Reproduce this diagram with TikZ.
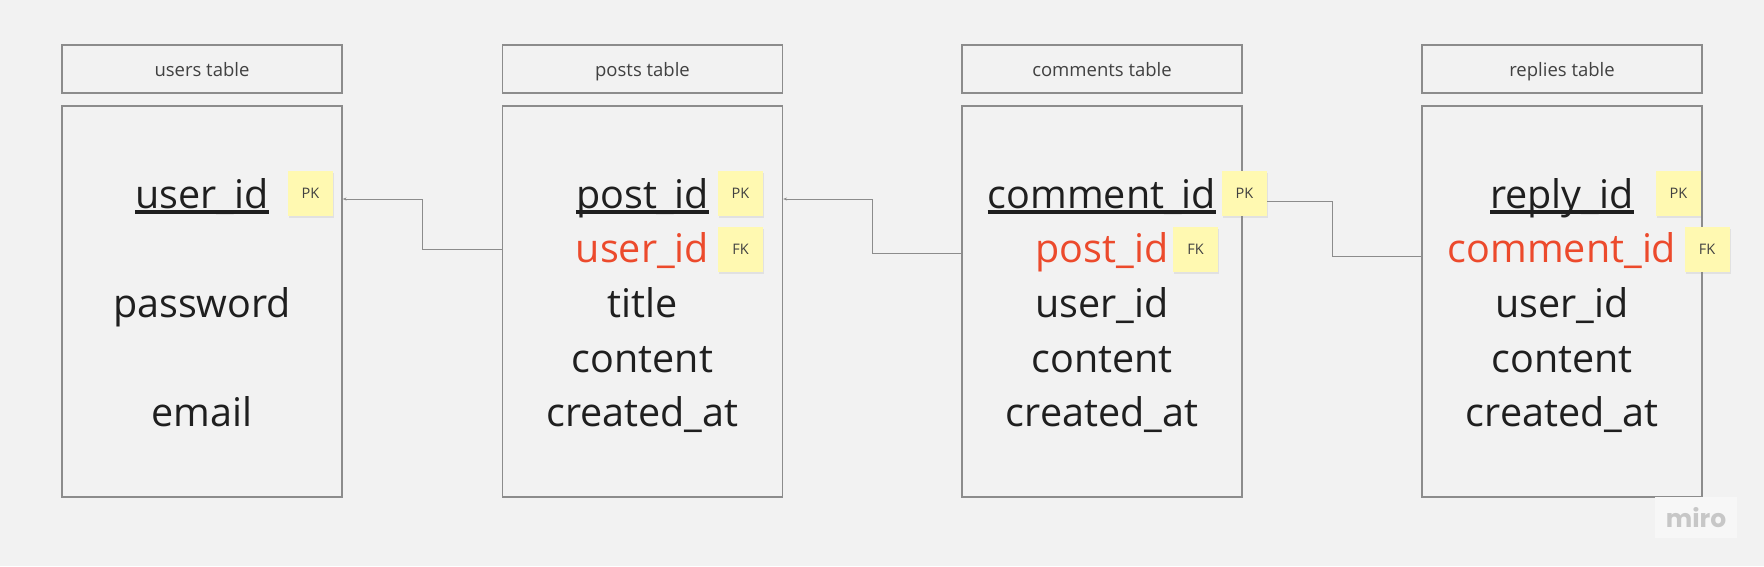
\documentclass[tikz,border=0pt]{standalone}
\usepackage{fontspec}
\setmainfont{Open Sans}
\newfontfamily\logofont{Poppins}
\usetikzlibrary{arrows.meta,shadows}
\definecolor{bg}{HTML}{F2F2F2}
\definecolor{edge}{HTML}{8C8C8C}
\definecolor{ink}{HTML}{1F1F1F}
\definecolor{fkred}{HTML}{EC4A2C}
\definecolor{sticky}{HTML}{FFF9B1}
\tikzstyle{header}=[draw=edge,line width=1.2pt,minimum width=280pt,minimum height=48pt,inner sep=0pt,text height=14pt,text depth=0pt,text=ink!85,font=\fontsize{18.5}{20}\selectfont]
\tikzstyle{table}=[draw=edge,line width=1.2pt,minimum width=280pt,minimum height=391pt,inner sep=0pt]
\tikzstyle{field}=[anchor=base,inner sep=0pt,text=ink,font=\fontsize{39.5}{44}\selectfont]
\tikzstyle{fkfield}=[field,text=fkred]
\tikzstyle{uline}=[ink,line width=3.5pt]
\tikzstyle{note}=[fill=sticky,minimum size=45pt,inner sep=0pt,text=ink!85,font=\fontsize{14.5}{16}\selectfont,drop shadow={shadow xshift=1pt,shadow yshift=-2pt,opacity=0.15}]
\tikzstyle{link}=[draw=edge,line width=1pt,-{Stealth[length=4pt,width=3pt]}]

\begin{document}
\begin{tikzpicture}[x=1pt,y=-1pt]
          \fill[bg] (0,0) rectangle (1764,566);
          \useasboundingbox (0,0) rectangle (1764,566);

          \node[header] (usershead) at (202, 69) {users table};
          \node[header] (postshead) at (642.5, 69) {posts table};
          \node[header] (commentshead) at (1102, 69) {comments table};
          \node[header] (replieshead) at (1562, 69) {replies table};

          \node[table] (users) at (202, 301.5) {};
          \node[table] (posts) at (642.5, 301.5) {};
          \node[table] (comments) at (1102, 301.5) {};
          \node[table] (replies) at (1562, 301.5) {};

          \draw[link] (posts.west |- 0,249) -- (422,249) -- (422,199) -- (users.east |- 0,199);
          \draw[link] (comments.west |- 0,253) -- (872,253) -- (872,199) -- (posts.east |- 0,199);
          \draw[link] (replies.west |- 0,256) -- (1332,256) -- (1332,201) -- (comments.east |- 0,201);

          \node[field] (uid) at (202, 208) {user\_id};
          \node[field] (upass) at (202, 317) {password};
          \node[field] (umail) at (202, 426) {email};

          \node[field] (pid) at (642.5, 208) {post\_id};
          \node[fkfield] (puid) at (642.5, 262) {user\_id};
          \node[field] (ptitle) at (642.5, 317) {title};
          \node[field] (pcontent) at (642.5, 372) {content};
          \node[field] (pcreated) at (642.5, 426) {created\_at};

          \node[field] (cid) at (1102, 208) {comment\_id};
          \node[fkfield] (cpid) at (1102, 262) {post\_id};
          \node[field] (cuid) at (1102, 317) {user\_id};
          \node[field] (ccontent) at (1102, 372) {content};
          \node[field] (ccreated) at (1102, 426) {created\_at};

          \node[field] (rid) at (1562, 208) {reply\_id};
          \node[fkfield] (rcid) at (1562, 262) {comment\_id};
          \node[field] (ruid) at (1562, 317) {user\_id};
          \node[field] (rcontent) at (1562, 372) {content};
          \node[field] (rcreated) at (1562, 426) {created\_at};

          \draw[uline] ([yshift=-4pt]uid.base west) -- ([yshift=-4pt]uid.base east);
          \draw[uline] ([yshift=-4pt]pid.base west) -- ([yshift=-4pt]pid.base east);
          \draw[uline] ([yshift=-4pt]cid.base west) -- ([yshift=-4pt]cid.base east);
          \draw[uline] ([yshift=-4pt]rid.base west) -- ([yshift=-4pt]rid.base east);

          \node[note] (upk) at (310.5, 193.5) {PK};
          \node[note] (ppk) at (740.5, 193.5) {PK};
          \node[note] (pfk) at (740.5, 249) {FK};
          \node[note] (cpk) at (1244.5, 193.5) {PK};
          \node[note] (cfk) at (1195.5, 249) {FK};
          \node[note] (rpk) at (1678.5, 193.5) {PK};
          \node[note] (rfk) at (1707, 249) {FK};

          \node[fill=white!40!bg,minimum width=82pt,minimum height=41pt,inner sep=0pt,text=black!22,font=\logofont\bfseries\fontsize{25}{25}\selectfont] (logo) at (1696, 517.5) {miro};
        \end{tikzpicture}
\end{document}
